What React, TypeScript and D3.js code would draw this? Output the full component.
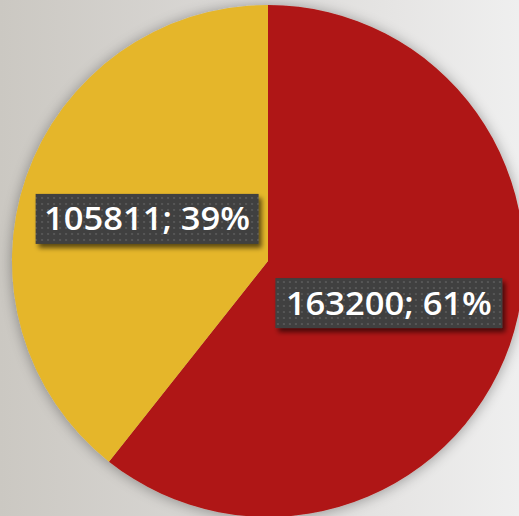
import React from "react";
import * as d3 from "d3";

const categories = ["A", "B"];
const values = [163200, 105811];
const percents = ["61%", "39%"];
const colors = ["#AF1513", "#E5B62A"];

const W = 519;
const H = 516;
const cx = 268;
const cy = 261;
const R = 256;

export default function App() {
  const pie = d3.pie<number>().sort(null).value((d) => d)(values);
  const arc = d3.arc<d3.PieArcDatum<number>>().innerRadius(0).outerRadius(R);
  const boxW = [227, 223];
  const boxH = 50;
  return (
    <svg width={W} height={H} style={{ position: "fixed", left: 0, top: 0, display: "block" }}>
      <defs>
        <linearGradient id="bg" x1="0" y1="0" x2="1" y2="0">
          <stop offset="0" stopColor="#cbc8c2" />
          <stop offset="0.5" stopColor="#dcdad8" />
          <stop offset="1" stopColor="#efefef" />
        </linearGradient>
        <filter id="pieShadow" x="-20%" y="-20%" width="140%" height="140%">
          <feGaussianBlur in="SourceAlpha" stdDeviation="7" />
          <feOffset dx="0" dy="1" result="b" />
          <feComponentTransfer>
            <feFuncA type="linear" slope="0.35" />
          </feComponentTransfer>
          <feMerge>
            <feMergeNode />
            <feMergeNode in="SourceGraphic" />
          </feMerge>
        </filter>
        <filter id="boxShadow" x="-20%" y="-40%" width="140%" height="180%">
          <feGaussianBlur in="SourceAlpha" stdDeviation="2.5" />
          <feOffset dx="3" dy="4" />
          <feComponentTransfer>
            <feFuncA type="linear" slope="0.6" />
          </feComponentTransfer>
          <feMerge>
            <feMergeNode />
            <feMergeNode in="SourceGraphic" />
          </feMerge>
        </filter>
        <pattern id="dots" x="0" y="0" width="6" height="6" patternUnits="userSpaceOnUse">
          <rect width="6" height="6" fill="#3f3f3f" />
          <rect x="2" y="2" width="2" height="2" fill="#575757" />
        </pattern>
      </defs>
      <rect width={W} height={H} fill="url(#bg)" />
      <g transform={`translate(${cx},${cy})`}>
        <g filter="url(#pieShadow)">
          {pie.map((p, i) => (
            <path key={categories[i]} d={arc(p) || ""} fill={colors[i]} />
          ))}
        </g>
        {pie.map((p, i) => {
          const [x, y] = arc.centroid(p);
          const bw = boxW[i];
          return (
            <g key={"l" + categories[i]} transform={`translate(${x},${y})`}>
              <rect
                x={-bw / 2}
                y={-boxH / 2}
                width={bw}
                height={boxH}
                fill="url(#dots)"
                filter="url(#boxShadow)"
              />
              <text
                x={0}
                y={11.5}
                textAnchor="middle"
                fill="#ffffff"
                fontFamily="'Open Sans', sans-serif"
                fontWeight={600}
                fontSize={32}
                textLength={206}
                lengthAdjust="spacingAndGlyphs"
              >
                {`${values[i]}; ${percents[i]}`}
              </text>
            </g>
          );
        })}
      </g>
    </svg>
  );
}
